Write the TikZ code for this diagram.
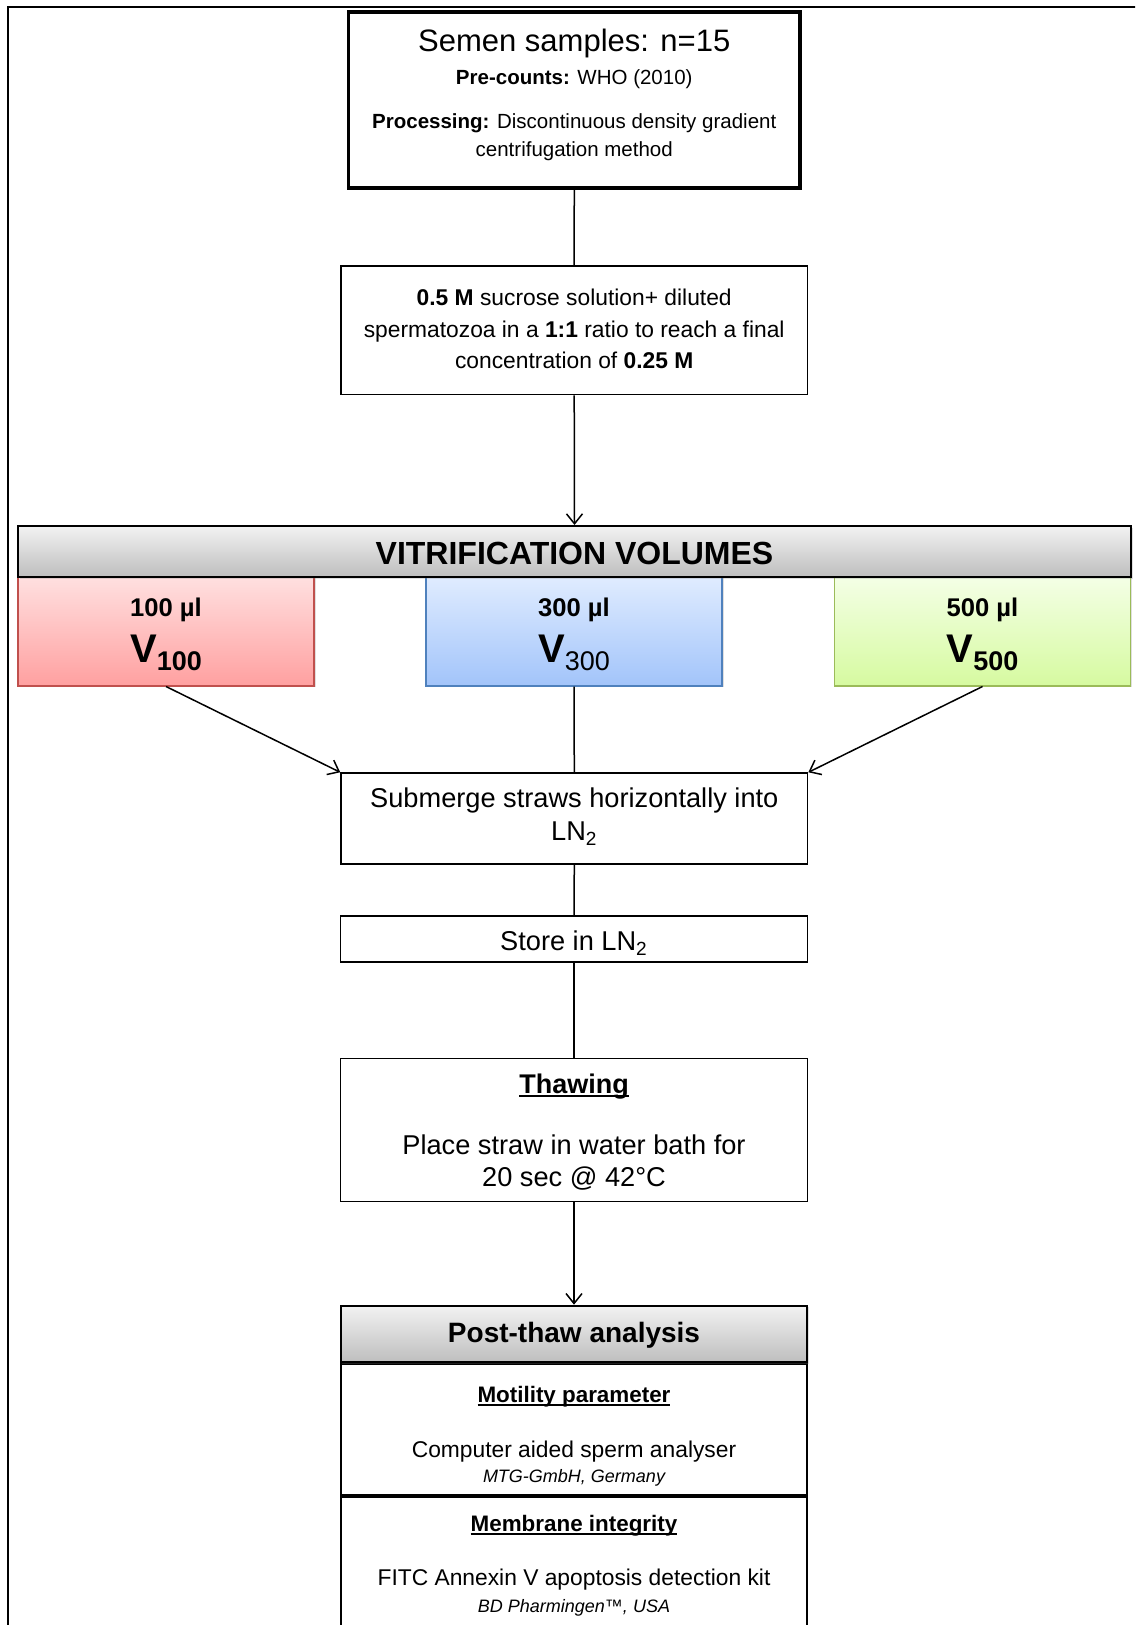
\documentclass[tikz,border=0pt]{standalone}
\usepackage{fontspec}
\setmainfont{Liberation Sans}
\usetikzlibrary{arrows.meta,positioning,shadows}
\definecolor{hdrTop}{RGB}{242,242,242}
\definecolor{hdrBot}{RGB}{190,190,190}
\definecolor{redTop}{RGB}{255,224,224}
\definecolor{redBot}{RGB}{255,160,160}
\definecolor{redLine}{RGB}{192,80,77}
\definecolor{blueTop}{RGB}{224,236,255}
\definecolor{blueBot}{RGB}{162,196,250}
\definecolor{blueLine}{RGB}{79,129,189}
\definecolor{greenTop}{RGB}{244,255,230}
\definecolor{greenBot}{RGB}{214,250,160}
\definecolor{greenLine}{RGB}{155,187,89}
\newcommand{\fsize}[2]{\fontsize{#1}{#2}\selectfont}
\newcommand{\padtop}[1]{\rule{0pt}{#1}}
\newcommand{\padbot}[1]{\rule[-#1]{0pt}{0pt}}
\newcommand{\headul}[1]{\setbox0\hbox{#1}\rlap{\rule[-1.6pt]{\wd0}{0.8pt}}\box0}
\newcommand{\vname}[2]{{\fsize{20}{23}V}\raisebox{-4pt}{\fsize{13.5}{15}#1#2}}

\begin{document}
\begin{tikzpicture}[x=0.5pt, y=-0.5pt,
    stagebox/.style={draw, line width=0.75pt, inner sep=0pt, align=center,
      minimum width=233.3pt, font=\fsize{13.6}{16.65}},
    headbox/.style={stagebox, line width=1pt, top color=hdrTop, bottom color=hdrBot,
      drop shadow={shadow xshift=0.8pt, shadow yshift=-0.8pt, opacity=0.25}},
    volbox/.style={draw=#1Line, line width=0.75pt, top color=#1Top, bottom color=#1Bot,
      inner sep=0pt, align=center, minimum width=148pt, font=\fsize{12.8}{23}\bfseries,
      drop shadow={shadow xshift=0.8pt, shadow yshift=-0.8pt, opacity=0.25}},
    link/.style={line width=0.75pt},
    flow/.style={link, -{Straight Barb[length=5pt,width=8pt]}}]
  \useasboundingbox (0,0) rectangle (1135,1625);
  \clip (0,0) rectangle (1135,1625);
  % outer frame
  \draw[line width=1.2pt] (1140,7) -| (8,1640);
  % samples and processing
  \node[stagebox, line width=1.8pt, minimum width=225.75pt, anchor=north,
    font=\fsize{10.25}{14}] (samples) at (574.25,10)
    {{\fsize{15.5}{18}\padtop{20pt}Semen samples: n=15}\\[2.5pt]
     {\bfseries Pre-counts:} WHO (2010)\\[8pt]
     {\bfseries Processing:} Discontinuous density gradient\\
     centrifugation method\padbot{15.6pt}};
  \node[stagebox, anchor=north, font=\fsize{11.4}{15.75}] (sucrose) at (574.2,265.3)
    {\padtop{19.85pt}{\bfseries 0.5 M} sucrose solution+ diluted\\
     spermatozoa in a {\bfseries 1:1} ratio to reach a final\\
     concentration of {\bfseries 0.25 M}\padbot{12.95pt}};
  % the three volumes
  \node[volbox=red, anchor=north] (v100) at (166,576)
    {\padtop{20pt}100 µl\\ \vname{}{100}\padbot{11.5pt}};
  \node[volbox=blue, anchor=north] (v300) at (574,576)
    {\padtop{20pt}300 µl\\ \vname{\mdseries}{300}\padbot{11.5pt}};
  \node[volbox=green, anchor=north] (v500) at (982.5,576)
    {\padtop{20pt}500 µl\\ \vname{}{500}\padbot{11.5pt}};
  \node[headbox, anchor=north, minimum width=556.5pt, font=\fsize{16}{18}\bfseries]
    (vitri) at (574.5,525) {\padtop{19.15pt}VITRIFICATION VOLUMES\padbot{6.35pt}};
  % freezing and thawing
  \node[stagebox, anchor=north] (submerge) at (574.3,772.3)
    {\padtop{17.2pt}Submerge straws horizontally into\\
     LN\textsubscript{2}\padbot{11.65pt}};
  \node[stagebox, anchor=north] (store) at (574,915)
    {\padtop{17.5pt}Store in LN\textsubscript{2}\padbot{5.65pt}};
  \node[stagebox, anchor=north, font=\fsize{13.6}{16.35}] (thaw) at (574,1057.7)
    {\padtop{17.5pt}{\fsize{13.5}{16}\bfseries\headul{Thawing}}\\[13.95pt]
     Place straw in water bath for\\
     20 sec @ 42°C\padbot{7.35pt}};
  % analysis
  \node[stagebox, line width=1pt, anchor=north, font=\fsize{11.4}{12.85}] (motility)
    at (574,1363.3)
    {\padtop{19.2pt}{\fsize{11.2}{13}\bfseries\headul{Motility parameter}}\\[14.3pt]
     Computer aided sperm analyser\\
     {\fsize{9}{11}\itshape MTG-GmbH, Germany}\padbot{6.15pt}};
  \node[stagebox, line width=1pt, below=0pt of motility, font=\fsize{11.4}{12.85}]
    (membrane)
    {\padtop{17.15pt}{\fsize{11.2}{13}\bfseries\headul{Membrane integrity}}\\[14.15pt]
     FITC Annexin V apoptosis detection kit\\[0.5pt]
     {\fsize{9}{11}\itshape BD Pharmingen™, USA}\padbot{15.5pt}};
  \node[headbox, above=0pt of motility, font=\fsize{14}{16}\bfseries] (post)
    {\padtop{18.3pt}Post-thaw analysis\padbot{10pt}};
  % connectors
  \draw[link] (samples.south) -- (sucrose.north);
  \draw[flow] (sucrose.south) -- (vitri.north);
  \draw[flow] (v100.south) -- (submerge.north west);
  \draw[link] (v300.south) -- (submerge.north);
  \draw[flow] (v500.south) -- (submerge.north east);
  \draw[link] (submerge.south) -- (store.north);
  \draw[link] (store.south) -- (thaw.north);
  \draw[flow] (thaw.south) -- (post.north);
\end{tikzpicture}
\end{document}
